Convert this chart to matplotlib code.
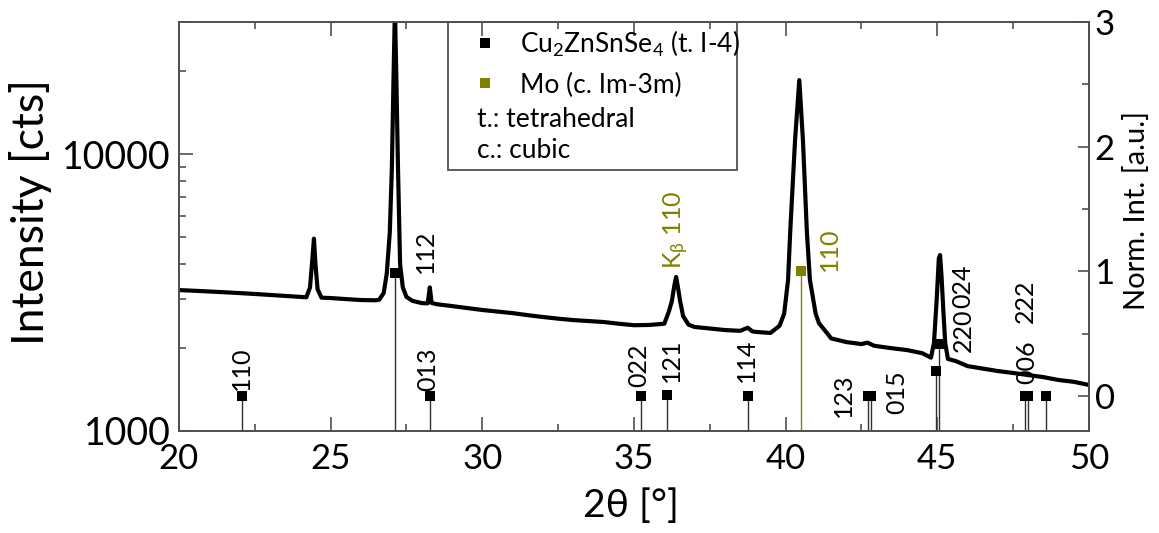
import matplotlib
matplotlib.use('Agg')
import matplotlib.pyplot as plt
import matplotlib.ticker as ticker
from matplotlib.patches import Rectangle

plt.rcParams['font.family'] = ['Lato', 'DejaVu Sans']
plt.rcParams['mathtext.fontset'] = 'custom'
plt.rcParams['mathtext.rm'] = 'Lato'
plt.rcParams['mathtext.it'] = 'Lato'
plt.rcParams['mathtext.fallback'] = 'stixsans'

# measured pattern (2theta in deg, counts)
two_theta = [20.0, 20.5, 21.0, 21.5, 22.0, 22.5, 23.0, 23.5, 24.0, 24.2,
             24.32, 24.4, 24.45, 24.5, 24.57, 24.7, 25.0, 25.5, 26.0, 26.5,
             26.6, 26.75, 26.85, 26.95, 27.02, 27.07, 27.12, 27.17, 27.22, 27.29,
             27.38, 27.5, 27.7, 28.0, 28.2, 28.27, 28.33, 28.5, 29.0, 29.5,
             30.0, 30.5, 31.0, 31.5, 32.0, 32.5, 33.0, 33.5, 34.0, 34.5,
             35.0, 35.5, 36.0, 36.15, 36.25, 36.33, 36.39, 36.45, 36.52, 36.62,
             36.8, 37.0, 37.5, 38.0, 38.5, 38.75, 38.9, 39.0, 39.5, 39.8,
             39.95, 40.08, 40.15, 40.31, 40.45, 40.57, 40.70, 40.80, 40.99, 41.1,
             41.36, 41.5, 42.0, 42.5, 42.7, 42.9, 43.0, 43.5, 44.0, 44.5,
             44.79, 44.89, 44.98, 45.05, 45.09, 45.14, 45.2, 45.26, 45.35, 45.6,
             46.0, 46.5, 47.0, 47.5, 48.0, 48.5, 49.0, 49.5, 50.0]
counts = [3228, 3210, 3190, 3170, 3148, 3125, 3100, 3075, 3050, 3040,
          3300, 4200, 4950, 4000, 3250, 3030, 3021, 2995, 2971, 2965,
          2980, 3150, 3700, 5200, 9000, 18000, 34000, 18000, 9000, 4000,
          3300, 3050, 2950, 2898, 2890, 3300, 2900, 2870, 2826, 2780,
          2735, 2700, 2665, 2620, 2580, 2545, 2515, 2495, 2475, 2440,
          2410, 2415, 2440, 2700, 2950, 3350, 3600, 3300, 2950, 2600,
          2420, 2375, 2345, 2315, 2300, 2360, 2290, 2280, 2260, 2400,
          2650, 3510, 5230, 11230, 18500, 11230, 5230, 3510, 2650, 2450,
          2260, 2160, 2095, 2060, 2085, 2035, 2025, 1990, 1960, 1910,
          1840, 2080, 3000, 4200, 4320, 3600, 2700, 2080, 1820, 1790,
          1715, 1680, 1646, 1620, 1592, 1565, 1528, 1505, 1466]

# reference reflections, normalised intensity
czts_pos = [22.07, 27.12, 28.28, 35.22, 36.09, 38.76, 42.73, 42.81,
            44.96, 45.06, 47.89, 48.00, 48.57]
czts_int = [0.0, 0.99, 0.0, 0.0, 0.01, 0.0, 0.0, 0.0,
            0.2, 0.42, 0.0, 0.0, 0.0]
mo_pos = [40.51]
mo_int = [1.0]

czts_labels = ['110', '112', '013', '022', '121', '114', '123', '015',
               '220', '024', '006', '222']
mo_labels = ['K$_\\beta$ 110', '110']

# where each hkl label starts (2theta, norm. int.)
czts_label_xy = [(22.06, 0.05), (28.11, 0.99), (28.21, 0.04), (35.17, 0.07),
                 (36.22, 0.11), (38.71, 0.11), (41.89, -0.17), (43.67, -0.14),
                 (45.85, 0.35), (45.85, 0.71), (47.96, 0.10), (47.89, 0.59)]
mo_label_xy = [(36.39, 1.02), (41.46, 1.0)]

olive = '#808000'
spine_col = '#505050'

fig = plt.figure(figsize=(11.59, 5.33), dpi=100)
ax = fig.add_axes([0.1544, 0.1914, 0.7852, 0.7673])
ax2 = ax.twinx()

# pattern
ax.plot(two_theta, counts, color='k', lw=3.0, zorder=3, solid_joinstyle='round')
ax.set_yscale('log')
ax.set_xlim(20, 50)
ax.set_ylim(1000, 30000)

ax.yaxis.set_major_locator(ticker.FixedLocator([1000, 10000]))
ax.yaxis.set_major_formatter(ticker.FuncFormatter(lambda v, p: '%d' % v))
ax.yaxis.set_minor_locator(ticker.LogLocator(base=10, subs=range(2, 10)))
ax.yaxis.set_minor_formatter(ticker.NullFormatter())
ax.xaxis.set_major_locator(ticker.MultipleLocator(5))
ax.xaxis.set_minor_locator(ticker.MultipleLocator(2.5))

ax.tick_params(axis='both', which='both', direction='in', colors=spine_col,
               labelcolor='k', labelsize=25)
ax.tick_params(axis='x', which='both', top=True, pad=9)
ax.tick_params(axis='y', which='both', right=False, pad=6, labelsize=27)
ax.tick_params(which='major', length=10, width=1.2)
ax.tick_params(which='minor', length=5, width=1.2)

ax.set_xlabel('2θ [°]', fontsize=28)
ax.xaxis.set_label_coords(0.497, -0.14)
ax.set_ylabel('Intensity [cts]', fontsize=32)
ax.yaxis.set_label_coords(-0.14, 0.535)

# hkl labels sit behind the pattern
for lab, (x, y) in zip(czts_labels, czts_label_xy):
    ax.text(x, y, lab, transform=ax2.transData, rotation=90, ha='center',
            va='bottom', fontsize=18, color='k', zorder=1)
for lab, (x, y) in zip(mo_labels, mo_label_xy):
    ax.text(x, y, lab, transform=ax2.transData, rotation=90, ha='center',
            va='bottom', fontsize=18, color=olive, zorder=1)

# stick patterns on the normalised axis
ax2.set_ylim(-0.28, 3.0)
ax2.vlines(czts_pos, -0.28, czts_int, color='#303030', lw=1.0)
ax2.vlines(mo_pos, -0.28, mo_int, color=olive, lw=1.0)
ax2.plot(czts_pos, czts_int, 's', color='k', ms=7.5, mew=0)
ax2.plot(mo_pos, mo_int, 's', color=olive, ms=7.5, mew=0)

ax2.yaxis.set_major_locator(ticker.MultipleLocator(1))
ax2.yaxis.set_minor_locator(ticker.MultipleLocator(0.5))
ax2.tick_params(axis='y', which='both', direction='in', colors=spine_col,
                labelcolor='k', labelsize=25, pad=4)
ax2.tick_params(which='major', length=8, width=1.2)
ax2.tick_params(which='minor', length=5, width=1.2)
ax2.set_ylabel('Norm. Int. [a.u.]', fontsize=21)
ax2.yaxis.set_label_coords(1.037, 0.538)

for a in (ax, ax2):
    for s in a.spines.values():
        s.set_color(spine_col)
        s.set_linewidth(1.3)

# legend box
ax2.add_patch(Rectangle((0.2956, 0.638), 0.3174, 0.362, transform=ax2.transAxes,
                        fill=False, edgecolor=spine_col, lw=1.3, clip_on=False))
ax2.plot([0.336], [0.9479], 's', color='k', ms=7.5, mew=0, transform=ax2.transAxes)
ax2.plot([0.336], [0.850], 's', color=olive, ms=7.5, mew=0, transform=ax2.transAxes)
ax2.text(0.3747, 0.9235, 'Cu$_2$ZnSnSe$_4$ (t. I-4)', transform=ax2.transAxes,
         fontsize=19, va='baseline')
ax2.text(0.3747, 0.8257, 'Mo (c. Im-3m)', transform=ax2.transAxes,
         fontsize=19, va='baseline')
ax2.text(0.3275, 0.744, 't.: tetrahedral', transform=ax2.transAxes,
         fontsize=19, va='baseline')
ax2.text(0.3275, 0.6667, 'c.: cubic', transform=ax2.transAxes,
         fontsize=19, va='baseline')

fig.savefig('out.png', dpi=100)
